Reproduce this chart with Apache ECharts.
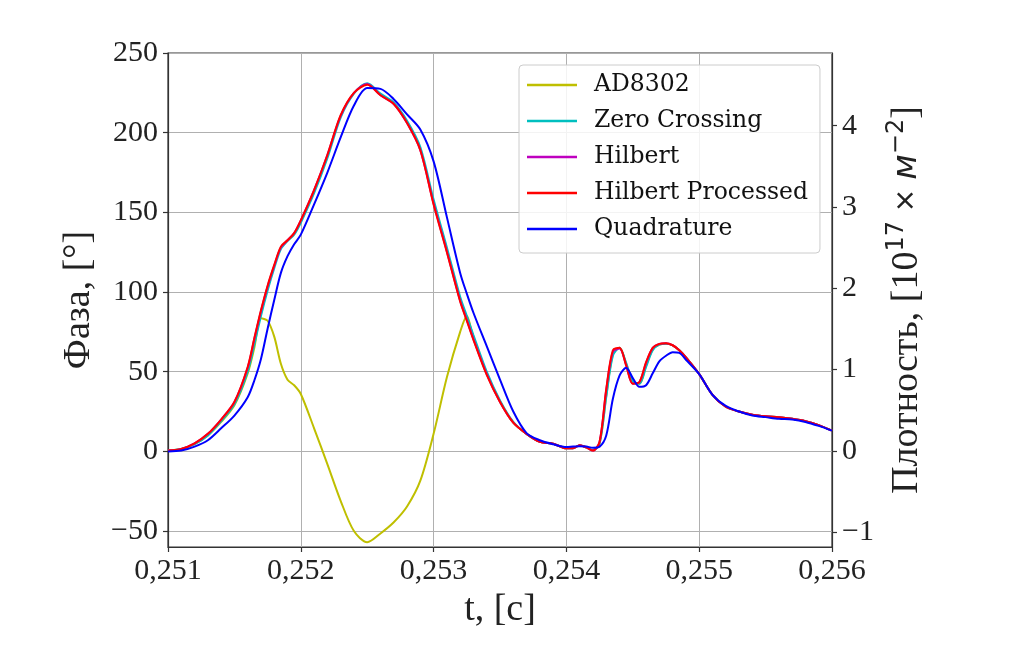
<!DOCTYPE html>
<html>
<head>
<meta charset="utf-8">
<script src="https://cdn.jsdelivr.net/npm/echarts@6/dist/echarts.min.js"></script>
<style>
html,body{margin:0;padding:0;background:#fff;}
#chart{width:1009px;height:658px;}
</style>
</head>
<body>
<div id="chart"></div>
<script>
// time axis samples, seconds
const times = [
  0.2510, 0.2511, 0.2512, 0.2513, 0.2514, 0.2515, 0.2516, 0.25165, 0.2517, 0.25175, 0.2518, 0.25185, 0.2519, 0.25195, 0.2520,
  0.2521, 0.2522, 0.2523, 0.2524, 0.2525, 0.2526, 0.2527, 0.2528, 0.2529, 0.2530, 0.2531, 0.2532, 0.25325, 0.2533, 0.2534, 0.2535, 0.2536, 0.2537, 0.2538, 0.2539, 0.2540,
  0.25405, 0.2541, 0.25415, 0.2542, 0.25425, 0.2543, 0.25435, 0.2544, 0.25445, 0.2545, 0.25455, 0.2546, 0.25465, 0.2547, 0.25475, 0.2548, 0.25485, 0.2549,
  0.2550, 0.2551, 0.2552, 0.2553, 0.2554, 0.2555, 0.2556, 0.2557, 0.2558, 0.2559, 0.2560
];
// phase values, degrees
const ad8302 = [
  0.5, 1.5, 4.5, 10, 18.5, 29, 49, 65, 83.5, 82, 72, 55, 45, 41.5, 36,
  14.5, -8, -31, -50, -57, -51.5, -44.5, -34.6, -18.4, 11, 46.5, 75, 85, 71, 49, 31.5, 18, 11, 6, 4.8, 2,
  2, 3.8, 2.5, 0.8, 5, 35, 61, 65, 55, 43.5, 42.5, 54, 64, 67, 67.5, 66.5, 63.5, 59,
  48.5, 35.5, 28, 25, 23, 22, 21.5, 20.5, 19, 16.5, 13
];
const zeroCrossing = [
  0.5, 1.5, 4.5, 10, 19, 29.5, 50, 67, 85, 101, 115, 127, 132, 136, 143.5,
  162, 184, 209.5, 224.5, 231, 224.5, 219, 207.5, 191, 158, 128, 97, 85, 73, 50, 32, 18.5, 11, 6, 4.8, 2,
  2, 3.8, 2.5, 0.8, 5, 34, 60, 65, 55.5, 44, 42.5, 53, 63.5, 67, 67.5, 66.5, 63.5, 59,
  48.5, 35.5, 28, 25, 23, 22, 21.5, 20.5, 19, 16.5, 13
];
const hilbert = [
  0.5, 1.5, 5, 11, 20, 31, 52.5, 70.5, 88, 103.5, 116.5, 128, 132.5, 137, 145,
  164, 186, 210.5, 225, 230.5, 223.5, 218, 206, 189, 155.5, 125.5, 94.5, 82.5, 70.5, 48.5, 31, 18, 11, 6, 4.8, 2,
  2, 3.8, 2.5, 0.5, 6, 38.5, 62.5, 64.5, 54, 42.5, 43.5, 55.5, 65, 67.5, 67.9, 66.6, 63.5, 59,
  48.5, 35.5, 28, 25, 23, 22, 21.5, 20.5, 19, 16.5, 13
];
const hilbertProcessed = [
  0.5, 1.5, 5, 11, 20, 31, 53, 71, 88.5, 104, 117, 128.5, 132.5, 137, 145,
  164, 186, 211, 225, 230, 223.5, 218, 206, 189, 155, 125, 94, 82, 70, 48, 31, 18, 11, 6, 4.8, 2,
  2, 3.8, 2.5, 0.5, 6, 39, 63.5, 65, 54, 42.5, 43.5, 56, 65, 67.5, 67.9, 66.6, 63.5, 59,
  48.5, 35.5, 28, 25, 23, 22, 21.5, 20.5, 19, 16.5, 13
];
const quadrature = [
  0, 0.5, 3, 7, 14.5, 22.5, 34, 44.5, 58, 77, 95, 112, 122.5, 130, 136,
  155, 175, 197, 217, 228, 227.5, 221, 211.5, 202, 182, 147, 112, 99, 87, 66, 45, 25, 11.5, 7, 4.5, 2.7,
  3, 3.2, 3, 2.3, 3, 10, 33, 47.5, 52.5, 46, 40.5, 41.5, 49, 56.5, 60, 62.2, 61.8, 57.5,
  48.5, 35.5, 28.5, 25, 22.5, 21.5, 20.5, 20, 18.5, 16, 13
];
const seriesNames = ['AD8302', 'Zero Crossing', 'Hilbert', 'Hilbert Processed', 'Quadrature'];
const seriesColors = ['#bfbf00', '#00bfbf', '#bf00bf', '#ff0000', '#0000ff'];
const seriesValues = [ad8302, zeroCrossing, hilbert, hilbertProcessed, quadrature];
// tick labels
const phaseTicks = [-50, 0, 50, 100, 150, 200, 250];
const densityTicks = [-1, 0, 1, 2, 3, 4];

const serif = '"Liberation Serif", "Times New Roman", serif';
const fmtMinus = v => (v < 0 ? '\u2212' + Math.abs(v) : String(v));

const chart = echarts.init(document.getElementById('chart'), null, {renderer: 'canvas'});
chart.setOption({
  animation: false,
  backgroundColor: '#ffffff',
  grid: {left: 168, right: 177, top: 53, bottom: 111, show: true, borderColor: '#333', borderWidth: 1.2, backgroundColor: 'transparent'},
  legend: {
    orient: 'vertical', left: 519, top: 65,
    data: seriesNames,
    icon: 'rect', itemWidth: 50, itemHeight: 2.5, itemGap: 12,
    padding: [8, 12, 12, 8],
    backgroundColor: 'rgba(255,255,255,0.85)', borderColor: '#cccccc', borderWidth: 1, borderRadius: 4,
    textStyle: {fontFamily: '"DejaVu Serif", serif', fontSize: 23.5, color: '#111', lineHeight: 23.5, padding: [0, 0, 0, 12]}
  },
  xAxis: {
    type: 'value', min: 0.251, max: 0.256, interval: 0.001,
    axisLine: {show: true, onZero: false, lineStyle: {color: '#333', width: 1.2}},
    axisTick: {show: true, length: 5, lineStyle: {color: '#333', width: 1.2}},
    axisLabel: {fontFamily: serif, fontSize: 30, color: '#222', margin: 9,
      formatter: v => v.toFixed(3).replace('.', ',')},
    splitLine: {show: true, lineStyle: {color: '#b0b0b0', width: 1}},
    name: 't, [c]', nameLocation: 'middle', nameGap: 40,
    nameTextStyle: {fontFamily: serif, fontSize: 38, color: '#222'}
  },
  yAxis: [{
    type: 'value', min: -60, max: 250, position: 'left',
    axisLine: {show: true, lineStyle: {color: '#333', width: 1.2}},
    axisTick: {show: true, length: 5, customValues: phaseTicks, lineStyle: {color: '#333', width: 1.2}},
    axisLabel: {customValues: phaseTicks, fontFamily: serif, fontSize: 30, color: '#222', margin: 10, formatter: fmtMinus},
    splitLine: {show: true, lineStyle: {color: '#b0b0b0', width: 1}},
    name: 'Фаза, [°]', nameLocation: 'middle', nameGap: 70, nameRotate: 90,
    nameTextStyle: {fontFamily: serif, fontSize: 38, color: '#222'}
  }, {
    type: 'value', min: -1.182, max: 4.894, position: 'right',
    axisLine: {show: true, lineStyle: {color: '#333', width: 1.2}},
    axisTick: {show: true, length: 5, customValues: densityTicks, lineStyle: {color: '#333', width: 1.2}},
    axisLabel: {customValues: densityTicks, fontFamily: serif, fontSize: 30, color: '#222', margin: 10, formatter: fmtMinus},
    splitLine: {show: false},
    name: '{n|Плотность, [10}{s|17}{x| × }{m|м}{s|−2}{n|]}',
    nameLocation: 'middle', nameGap: 50, nameRotate: 90,
    nameTextStyle: {
      color: '#222',
      rich: {
        n: {fontFamily: serif, fontSize: 38, color: '#222'},
        s: {fontFamily: '"DejaVu Sans", sans-serif', fontSize: 24, color: '#222', padding: [0, 0, 20, 0]},
        x: {fontFamily: '"DejaVu Sans", sans-serif', fontSize: 28, color: '#222'},
        m: {fontFamily: '"DejaVu Sans", sans-serif', fontStyle: 'italic', fontSize: 34, color: '#222'}
      }
    }
  }],
  series: seriesNames.map((name, i) => ({
    name: name, type: 'line', yAxisIndex: 0,
    data: times.map((t, j) => [t, seriesValues[i][j]]),
    showSymbol: false, symbol: 'none', smooth: 0.3,
    color: seriesColors[i],
    lineStyle: {color: seriesColors[i], width: 2},
    z: 2 + i
  }))
});
</script>
</body>
</html>
